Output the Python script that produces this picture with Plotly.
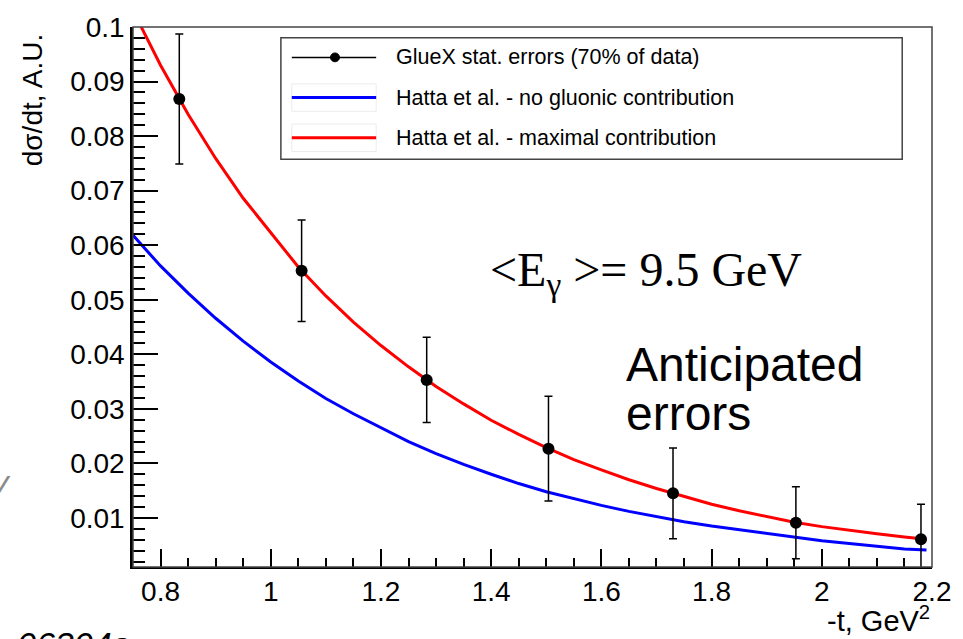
import plotly.graph_objects as go

# ---- data -------------------------------------------------------------
# GlueX projected points: -t (GeV^2), dsigma/dt (A.U.), stat. error
t_pts = [0.834, 1.056, 1.283, 1.504, 1.730, 1.953, 2.180]
dsdt_pts = [0.0868, 0.0553, 0.0353, 0.0227, 0.0145, 0.0091, 0.0061]
dsdt_err = [0.0119, 0.0093, 0.0078, 0.0096, 0.0083, 0.0066, 0.0064]

# Hatta et al. model curves sampled along -t
t_curve = [0.75, 0.80, 0.85, 0.90, 0.95, 1.00, 1.05, 1.10, 1.15, 1.20,
           1.25, 1.30, 1.35, 1.40, 1.45, 1.50, 1.55, 1.60, 1.65, 1.70,
           1.75, 1.80, 1.85, 1.90, 1.95, 2.00, 2.05, 2.10, 2.15, 2.19]
hatta_max = [0.1030, 0.0930, 0.0840, 0.0759, 0.0686, 0.0622, 0.0560, 0.0507,
             0.0459, 0.0416, 0.0377, 0.0341, 0.0309, 0.0279, 0.0253, 0.0229,
             0.0207, 0.0188, 0.0170, 0.0154, 0.0139, 0.0125, 0.0113, 0.0102,
             0.0092, 0.0084, 0.0077, 0.0071, 0.0065, 0.0061]
hatta_nogluon = [0.0618, 0.0562, 0.0512, 0.0466, 0.0424, 0.0386, 0.0351, 0.0319,
                 0.0291, 0.0265, 0.0240, 0.0218, 0.0198, 0.0180, 0.0163, 0.0148,
                 0.0135, 0.0123, 0.0112, 0.0102, 0.0093, 0.0085, 0.0078, 0.0071,
                 0.0064, 0.0058, 0.0053, 0.0048, 0.0043, 0.0041]

x_tickvals = [0.8, 1.0, 1.2, 1.4, 1.6, 1.8, 2.0, 2.2]
x_ticktext = ["0.8", "1", "1.2", "1.4", "1.6", "1.8", "2", "2.2"]
y_tickvals = [0.01, 0.02, 0.03, 0.04, 0.05, 0.06, 0.07, 0.08, 0.09, 0.1]
y_ticktext = ["0.01", "0.02", "0.03", "0.04", "0.05", "0.06", "0.07", "0.08", "0.09", "0.1"]

legend_labels = ["GlueX stat. errors (70% of data)",
                 "Hatta et al. - no gluonic contribution",
                 "Hatta et al. - maximal contribution"]

# ---- page geometry ------------------------------------------------------
W, H = 963, 639
ML, MR, MT, MB = 133, 25, 16, 72
PW, PH = W - ML - MR, H - MT - MB


def px(x):
    """page pixel column -> paper x"""
    return (x - ML) / PW


def py(y):
    """page pixel row -> paper y"""
    return (H - MB - y) / PH


SANS = "Liberation Sans, Arial, Helvetica, sans-serif"

fig = go.Figure()

fig.add_trace(go.Scatter(x=t_curve, y=hatta_nogluon, mode="lines",
                         line=dict(color="#0000ff", width=3),
                         name=legend_labels[1], showlegend=False))
fig.add_trace(go.Scatter(x=t_curve, y=hatta_max, mode="lines",
                         line=dict(color="#ff0000", width=3),
                         name=legend_labels[2], showlegend=False))
fig.add_trace(go.Scatter(x=t_pts, y=dsdt_pts, mode="markers",
                         marker=dict(color="black", size=12),
                         error_y=dict(type="data", array=dsdt_err, color="black",
                                      thickness=1.5, width=4),
                         name=legend_labels[0], showlegend=False))

shapes = []
annotations = []

# frame (top/right thin gray, axes drawn by the axis lines)
shapes.append(dict(type="rect", xref="paper", yref="paper", x0=0, x1=1, y0=0, y1=1,
                   line=dict(color="#444444", width=1.5), layer="above"))

# legend box
shapes.append(dict(type="rect", xref="paper", yref="paper",
                   x0=px(282), x1=px(908), y0=py(151), y1=py(27),
                   line=dict(color="#444444", width=1.5), fillcolor="white", layer="above"))
rows = [47, 88, 129]
colors = ["#000000", "#0000ff", "#ff0000"]
for i, (ry, c, lab) in enumerate(zip(rows, colors, legend_labels)):
    if i > 0:
        shapes.append(dict(type="rect", xref="paper", yref="paper",
                           x0=px(293), x1=px(378), y0=py(ry + 14), y1=py(ry - 14),
                           line=dict(color="#ececec", width=1), layer="above"))
    shapes.append(dict(type="line", xref="paper", yref="paper",
                       x0=px(293), x1=px(378), y0=py(ry), y1=py(ry),
                       line=dict(color=c, width=1.5 if i == 0 else 3), layer="above"))
    if i == 0:
        shapes.append(dict(type="circle", xref="paper", yref="paper",
                           x0=px(332), x1=px(341), y0=py(ry + 4.5), y1=py(ry - 4.5),
                           fillcolor="black", line=dict(color="black", width=1), layer="above"))
    annotations.append(dict(xref="paper", yref="paper", x=px(396), y=py(ry),
                            xanchor="left", yanchor="middle", showarrow=False,
                            text=lab, font=dict(family=SANS, size=21.5, color="black")))

# axis titles
annotations.append(dict(xref="paper", yref="paper", x=px(32), y=py(91),
                        xanchor="center", yanchor="middle", showarrow=False, textangle=-90,
                        text="dσ/dt, A.U.", font=dict(family=SANS, size=28, color="black")))
annotations.append(dict(xref="paper", yref="paper", x=px(938), y=py(620),
                        xanchor="right", yanchor="middle", showarrow=False,
                        text="-t, GeV<sup>2</sup>", font=dict(family=SANS, size=29, color="black")))

# in-plot captions
annotations.append(dict(xref="paper", yref="paper", x=px(650), y=py(267),
                        xanchor="center", yanchor="middle", showarrow=False,
                        text="<E<sub>γ</sub> >= 9.5 GeV",
                        font=dict(family="Liberation Serif, Times New Roman, serif", size=48,
                                  color="black")))
annotations.append(dict(xref="paper", yref="paper", x=px(628), y=py(360),
                        xanchor="left", yanchor="middle", showarrow=False,
                        text="Anticipated",
                        font=dict(family=SANS, size=48, color="black")))
annotations.append(dict(xref="paper", yref="paper", x=px(628), y=py(410),
                        xanchor="left", yanchor="middle", showarrow=False,
                        text="errors",
                        font=dict(family=SANS, size=48, color="black")))

# fragments at the page edges
annotations.append(dict(xref="paper", yref="paper", x=px(12), y=py(484),
                        xanchor="right", yanchor="middle", showarrow=False,
                        text="<i>V</i>", font=dict(family=SANS, size=30, color="#8a8a8a")))
annotations.append(dict(xref="paper", yref="paper", x=px(14), y=py(624),
                        xanchor="left", yanchor="top", showarrow=False,
                        text="<i>06304a</i>", font=dict(family=SANS, size=34, color="black")))

fig.update_layout(
    width=W, height=H,
    margin=dict(l=ML, r=MR, t=MT, b=MB, pad=0),
    paper_bgcolor="white", plot_bgcolor="white",
    showlegend=False,
    shapes=shapes, annotations=annotations,
    font=dict(family=SANS, color="black"),
)

fig.update_xaxes(
    range=[0.75, 2.2], showgrid=False, zeroline=False,
    showline=True, linecolor="black", linewidth=2,
    ticks="inside", ticklen=18, tickwidth=1.5, tickcolor="black",
    tickvals=x_tickvals, ticktext=x_ticktext, ticklabelstandoff=-2,
    tickfont=dict(family=SANS, size=28, color="black"),
    minor=dict(ticks="inside", ticklen=9, tickwidth=1.5, tickcolor="black",
               dtick=0.05, tick0=0.75, showgrid=False),
)
fig.update_yaxes(
    range=[0.001, 0.1], showgrid=False, zeroline=False,
    showline=True, linecolor="black", linewidth=2.5,
    ticks="inside", ticklen=25, tickwidth=1.5, tickcolor="black",
    tickvals=y_tickvals, ticktext=y_ticktext,
    tickfont=dict(family=SANS, size=28, color="black"),
    minor=dict(ticks="inside", ticklen=12, tickwidth=1.5, tickcolor="black",
               dtick=0.002, tick0=0, showgrid=False),
)

fig.write_html("out.html")
